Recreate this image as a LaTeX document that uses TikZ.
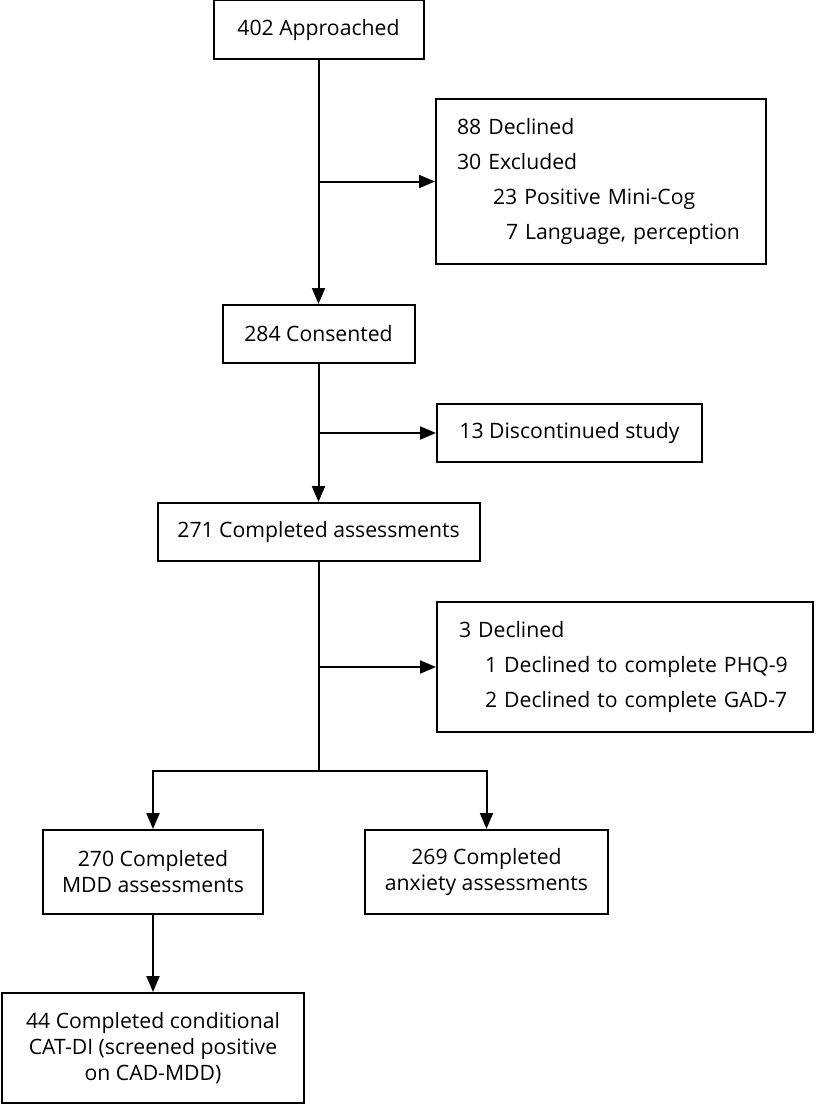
\documentclass[tikz,border=0pt]{standalone}
\usepackage{fontspec}
\setmainfont{Open Sans}
\usetikzlibrary{arrows.meta}
\begin{document}
\begin{tikzpicture}[x=1pt,y=-1pt,
  box/.style={draw=black,line width=2pt,rectangle,inner sep=0pt,align=center,
    font=\fontsize{21.2}{26}\selectfont},
  listbox/.style={draw=black,line width=2pt,rectangle,inner ysep=0pt,align=left,
    font=\fontsize{21.2}{35}\selectfont},
  arr/.style={line width=2pt,-{Triangle[length=16pt,width=13pt]}},
  ln/.style={line width=2pt}]
\useasboundingbox (0,0) rectangle (815,1104);
\node[box,minimum width=210pt,minimum height=59pt] (a) at (318.5,29.5) {402 Approached};
\node[listbox,minimum width=330pt,minimum height=165pt,text width=288pt,inner xsep=21pt] (excl) at (601,181.5)
  {\mbox{88 Declined}\\\mbox{30 Excluded}\\\hspace*{36pt}\mbox{23 Positive Mini-Cog}\\\hspace*{49pt}\mbox{7 Language, perception}};
\node[box,minimum width=192pt,minimum height=58pt] (cons) at (318.5,334) {284 Consented};
\node[box,minimum width=265pt,minimum height=58pt] (disc) at (569.5,433) {13 Discontinued study};
\node[box,minimum width=322pt,minimum height=58pt] (comp) at (318.5,532) {271 Completed assessments};
\node[listbox,minimum width=376pt,minimum height=130pt,text width=332pt,inner xsep=22pt] (excl2) at (625,667)
  {\mbox{3 Declined}\\\hspace*{26pt}\mbox{1 Declined to complete PHQ-9}\\\hspace*{26pt}\mbox{2 Declined to complete GAD-7}};
\node[box,minimum width=220pt,minimum height=84pt] (mdd) at (153,872) {270 Completed\\MDD assessments};
\node[box,minimum width=243pt,minimum height=84pt] (anx) at (486.5,872) {269 Completed\\anxiety assessments};
\node[box,minimum width=302pt,minimum height=110pt] (cat) at (153,1048) {44 Completed conditional\\CAT-DI (screened positive\\on CAD-MDD)};
\coordinate (split) at (318.5,771);
\draw[arr] (a.south) -- (cons.north);
\draw[arr] (a.south |- excl.west) -- (excl.west);
\draw[arr] (cons.south) -- (comp.north);
\draw[arr] (cons.south |- disc.west) -- (disc.west);
\draw[ln] (comp.south) -- (split);
\draw[arr] (comp.south |- excl2.west) -- (excl2.west);
\draw[arr] (split) -| (mdd.north);
\draw[arr] (split) -| (anx.north);
\draw[arr] (mdd.south) -- (cat.north);
\end{tikzpicture}
\end{document}
